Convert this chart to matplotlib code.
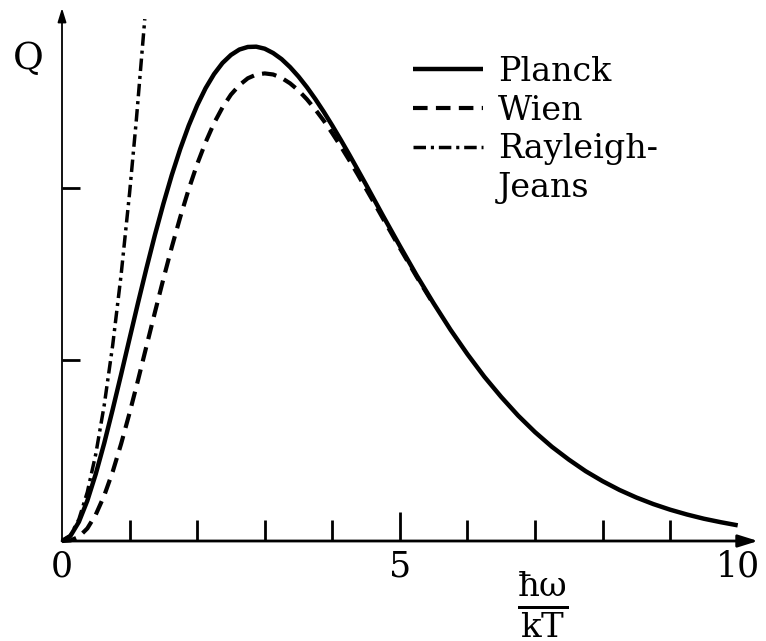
import matplotlib
matplotlib.use('Agg')
import matplotlib.pyplot as plt

plt.rcParams['font.family'] = ['DejaVu Serif']
plt.rcParams['mathtext.fontset'] = 'dejavuserif'

# values (x = hbar*omega / kT)
x_planck = [0, 0.125, 0.25, 0.375, 0.5, 0.625, 0.75, 0.875, 1, 1.125, 1.25, 1.375, 1.5,
            1.625, 1.75, 1.875, 2, 2.125, 2.25, 2.375, 2.5, 2.625, 2.75, 2.875, 3, 3.125,
            3.25, 3.375, 3.5, 3.625, 3.75, 3.875, 4, 4.125, 4.25, 4.375, 4.5, 4.625, 4.75,
            4.875, 5, 5.25, 5.5, 5.75, 6, 6.25, 6.5, 6.75, 7, 7.25, 7.5, 7.75, 8, 8.25,
            8.5, 8.75, 9, 9.25, 9.5, 9.75, 10]
q_planck = [0, 0.0147, 0.055, 0.1159, 0.193, 0.2812, 0.378, 0.4789, 0.582, 0.6845, 0.784,
            0.8797, 0.969, 1.0521, 1.127, 1.194, 1.252, 1.3015, 1.342, 1.3739, 1.397,
            1.4126, 1.420, 1.4208, 1.415, 1.4025, 1.385, 1.3621, 1.335, 1.3042, 1.270,
            1.2332, 1.194, 1.1531, 1.111, 1.0676, 1.024, 0.9795, 0.935, 0.8914, 0.848,
            0.763, 0.683, 0.607, 0.537, 0.4722, 0.414, 0.3605, 0.313, 0.2708, 0.234,
            0.2006, 0.172, 0.1467, 0.125, 0.1062, 0.090, 0.0761, 0.064, 0.054, 0.045]

x_wien = [0, 0.125, 0.25, 0.375, 0.5, 0.625, 0.75, 0.875, 1, 1.125, 1.25, 1.375, 1.5,
          1.625, 1.75, 1.875, 2, 2.125, 2.25, 2.375, 2.5, 2.625, 2.75, 2.875, 3, 3.125,
          3.25, 3.375, 3.5, 3.625, 3.75, 3.875, 4, 4.125, 4.25, 4.375, 4.5, 4.625, 4.75,
          4.875, 5, 5.25, 5.5]
q_wien = [0, 0.0017, 0.012, 0.0362, 0.076, 0.1307, 0.199, 0.2793, 0.368, 0.4623, 0.560,
          0.6573, 0.753, 0.845, 0.931, 1.0109, 1.083, 1.146, 1.201, 1.2461, 1.283, 1.3103,
          1.330, 1.3407, 1.344, 1.3409, 1.331, 1.3155, 1.295, 1.2694, 1.240, 1.2076, 1.172,
          1.1345, 1.095, 1.0541, 1.012, 0.9699, 0.927, 0.8846, 0.842, 0.759, 0.680]

x_rj = [0, 0.125, 0.25, 0.375, 0.5, 0.625, 0.75, 0.875, 1.0, 1.1, 1.225]
q_rj = [0, 0.0156, 0.0625, 0.1406, 0.25, 0.3906, 0.5625, 0.7656, 1.0, 1.21, 1.50]

x_major = [0, 5, 10]
x_labels = ['0', '5', '10']
x_minor = [1, 2, 3, 4, 6, 7, 8, 9]
y_ticks = [0.52, 1.015]

fig = plt.figure(figsize=(7.66, 6.41), dpi=100)
ax = fig.add_axes([62 / 766, 100 / 641, 696 / 766, 533 / 641])

ax.plot(x_planck, q_planck, color='black', lw=3.2, solid_capstyle='butt',
        solid_joinstyle='round', label='Planck', clip_on=False)
ax.plot(x_wien, q_wien, color='black', lw=3, dashes=(3.5, 2), label='Wien', clip_on=False)
ax.plot(x_rj, q_rj, color='black', lw=2.5, dashes=(3.6, 1.4, 0.9, 1.4), label='Rayleigh-',
        clip_on=False)
ax.plot([], [], color='none', label='Jeans')

ax.set_xlim(0, 10.3)
ax.set_ylim(0, 1.532)
for s in ax.spines.values():
    s.set_visible(False)

# axes drawn as arrows
ax.annotate('', xy=(1, 0), xytext=(0, 0), xycoords='axes fraction',
            arrowprops=dict(arrowstyle='-|>,head_length=0.8,head_width=0.25', lw=2,
                            color='black', mutation_scale=15, shrinkA=0, shrinkB=0))
ax.annotate('', xy=(0, 1), xytext=(0, 0), xycoords='axes fraction',
            arrowprops=dict(arrowstyle='-|>,head_length=0.55,head_width=0.17', lw=1.3,
                            color='black', mutation_scale=15, shrinkA=0, shrinkB=0))

ax.set_xticks(x_major)
ax.set_xticklabels(x_labels, fontsize=25)
ax.set_xticks(x_minor, minor=True)
ax.tick_params(axis='x', which='major', direction='in', length=21, width=2, pad=6)
ax.tick_params(axis='x', which='minor', direction='in', length=15, width=2)
for t in (ax.xaxis.get_major_ticks()[0], ax.xaxis.get_major_ticks()[2]):
    t.tick1line.set_visible(False)
ax.set_yticks(y_ticks)
ax.set_yticklabels([])
ax.tick_params(axis='y', direction='in', length=13, width=2)

ax.text(-0.049, 0.905, 'Q', transform=ax.transAxes, fontsize=27, ha='center', va='center')
ax.text(0.691, -0.12, r'$\frac{\mathrm{\hbar\omega}}{\mathrm{kT}}$', transform=ax.transAxes,
        fontsize=35, ha='center', va='center')

ax.legend(loc='upper left', bbox_to_anchor=(0.504, 0.91), frameon=False, fontsize=24,
          borderpad=0, borderaxespad=0, handlelength=2.1, handletextpad=0.45,
          labelspacing=0.2)

fig.savefig('out.png', dpi=100)
